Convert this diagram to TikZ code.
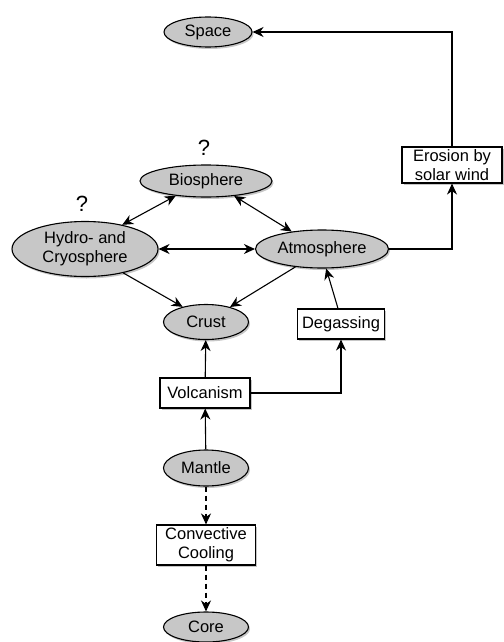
\documentclass[tikz,border=0pt]{standalone}
\usepackage{fontspec}
\setmainfont{Liberation Sans}
\usetikzlibrary{positioning,arrows.meta,shadows,shapes.geometric}

\begin{document}
\begin{tikzpicture}[
  x=1pt, y=-1pt,
  font=\fontsize{16.5}{19}\selectfont,
  sph/.style={draw,line width=1.1pt,ellipse,fill=black!22,inner sep=0pt,drop shadow={opacity=0.45,shadow xshift=1.5pt,shadow yshift=-2pt}},
  proc/.style={draw,line width=1.1pt,fill=white,align=center,inner sep=0pt,drop shadow={opacity=0.45,shadow xshift=1.5pt,shadow yshift=-2pt}},
  a/.style={-{Stealth[length=11pt,width=10pt,inset=3.5pt]},line width=1.1pt},
  aa/.style={{Stealth[length=11pt,width=10pt,inset=3.5pt]}-{Stealth[length=11pt,width=10pt,inset=3.5pt]},line width=1.1pt},
  d/.style={a,dash pattern=on 5pt off 4pt},
]
  \useasboundingbox (0,0) rectangle (503,642);

  \node[sph,minimum width=88pt,minimum height=30pt]  (space) at (208,32)  {Space};
  \node[sph,minimum width=132pt,minimum height=32pt] (bio)   at (206,181) {Biosphere};
  \node[sph,minimum width=146pt,minimum height=55pt,align=center] (hydro) at (85,249) {Hydro- and\\Cryosphere};
  \node[sph,minimum width=133pt,minimum height=38pt] (atm)   at (322,249) {Atmosphere};
  \node[sph,minimum width=85pt,minimum height=35pt]  (crust) at (206,322) {Crust};
  \node[sph,minimum width=85pt,minimum height=36pt]  (mantle) at (206,468) {Mantle};
  \node[sph,minimum width=85pt,minimum height=30pt]  (core)  at (206,627) {Core};

  \node[proc,minimum width=100pt,minimum height=36pt] (eros) at (452,165) {Erosion by\\solar wind};
  \node[proc,minimum width=87pt,minimum height=30pt]  (degas) at (341,324) {Degassing};
  \node[proc,minimum width=90pt,minimum height=30pt]  (volc) at (205,393) {Volcanism};
  \node[proc,minimum width=99pt,minimum height=40pt]  (conv) at (206,545) {Convective\\Cooling};

  \node[font=\fontsize{22}{24}\selectfont] (q1) at (204,148) {?};
  \node[font=\fontsize{22}{24}\selectfont] (q2) at (82,204) {?};

  % exchanges between the spheres
  \draw[aa] (hydro.33) -- (bio.206);
  \draw[aa] (bio.332) -- (atm.150);
  \draw[aa] (hydro) -- (atm);
  \draw[a] (hydro.328) -- (crust.147);
  \draw[a] (atm.214) -- (crust.32);

  \draw[a] ([xshift=-3pt]degas.north) -- (atm.-78);
  \draw[a] (atm.east) -| (eros.south);
  \draw[a] (eros.north) |- (space.east);

  \draw[a] (volc) -- (crust);
  \draw[a] (volc.east) -| (degas.south);
  \draw[a] (mantle) -- (volc);
  \draw[d] (mantle) -- (conv);
  \draw[d] (conv) -- (core);
\end{tikzpicture}
\end{document}
